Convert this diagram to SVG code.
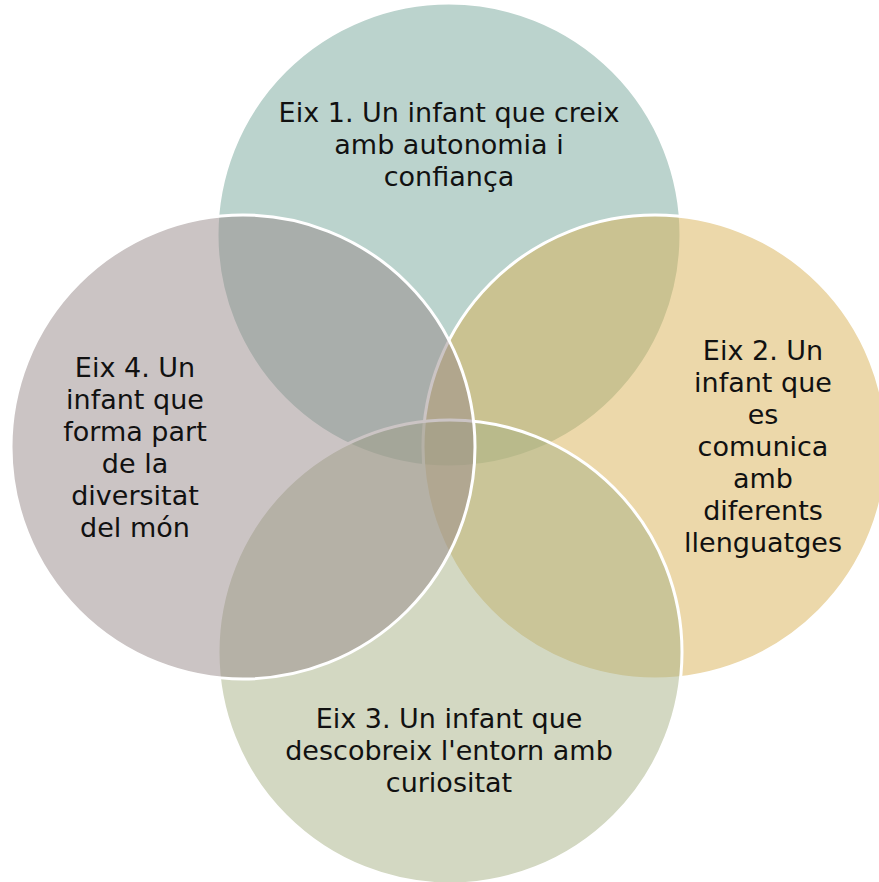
<svg xmlns="http://www.w3.org/2000/svg" width="879" height="882" viewBox="0 0 879 882">
<style>
.c{stroke:#ffffff;stroke-width:3}
.t{font-family:"DejaVu Sans","Liberation Sans",sans-serif;font-size:27px;fill:#111111;text-anchor:middle}
</style>
<rect width="879" height="882" fill="#ffffff"/>
<g id="eix1"><circle class="c" cx="449" cy="235" r="232" fill="#78A89C" fill-opacity="0.5"/></g>
<g id="eix2"><circle class="c" cx="655" cy="447" r="232" fill="#D9B155" fill-opacity="0.5"/></g>
<g id="eix3"><circle class="c" cx="450" cy="652" r="232" fill="#A7B185" fill-opacity="0.5"/></g>
<g id="eix4"><circle class="c" cx="243" cy="447" r="232" fill="#988989" fill-opacity="0.5"/></g>
<g id="labels">
<text class="t" x="449" y="122">Eix 1. Un infant que creix</text>
<text class="t" x="449" y="154">amb autonomia i</text>
<text class="t" x="449" y="186">confiança</text>
<text class="t" x="763" y="360">Eix 2. Un</text>
<text class="t" x="763" y="392">infant que</text>
<text class="t" x="763" y="424">es</text>
<text class="t" x="763" y="456">comunica</text>
<text class="t" x="763" y="488">amb</text>
<text class="t" x="763" y="520">diferents</text>
<text class="t" x="763" y="552">llenguatges</text>
<text class="t" x="449" y="728">Eix 3. Un infant que</text>
<text class="t" x="449" y="760">descobreix l'entorn amb</text>
<text class="t" x="449" y="792">curiositat</text>
<text class="t" x="135" y="377">Eix 4. Un</text>
<text class="t" x="135" y="409">infant que</text>
<text class="t" x="135" y="441">forma part</text>
<text class="t" x="135" y="473">de la</text>
<text class="t" x="135" y="505">diversitat</text>
<text class="t" x="135" y="537">del món</text>
</g>
</svg>
